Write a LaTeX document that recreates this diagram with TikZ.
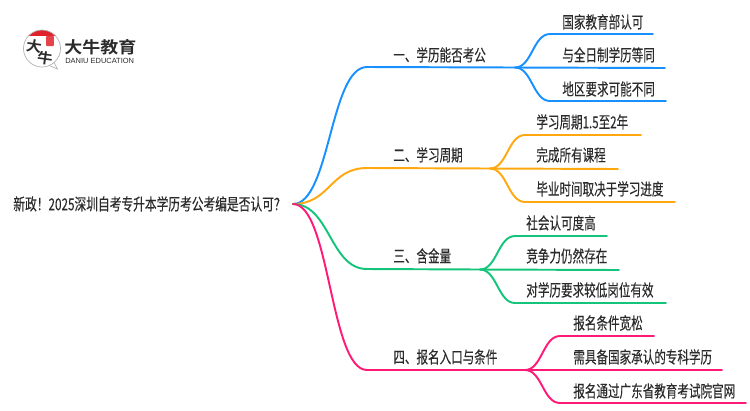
\documentclass[tikz,border=0pt]{standalone}
\usepackage{fontspec}
\usepackage{xcolor}
\usetikzlibrary{positioning}
\newfontfamily\cjk[FakeStretch=0.7,FakeBold=0.25]{Noto Sans CJK SC}
\newfontfamily\cjkroot[FakeStretch=0.71,FakeBold=0.25]{Noto Sans CJK SC}
\newfontfamily\cjklogo[FakeStretch=1.1]{Noto Sans CJK SC Bold}
\newfontfamily\latinlogo{Liberation Sans}
\definecolor{lineblue}{HTML}{1890FF}
\definecolor{lineorange}{HTML}{FFA80F}
\definecolor{linegreen}{HTML}{14C47A}
\definecolor{linepink}{HTML}{FF1A78}
\definecolor{inkdark}{HTML}{2B2B2B}
\definecolor{logored}{HTML}{E0222A}
\tikzset{
  txt/.style={anchor=west,inner sep=0pt,font=\cjk\fontsize{9.4pt}{10pt}\selectfont,text=inkdark,text height=8.2pt,text depth=1.1pt},
  ln/.style={line width=1.1pt,line cap=round},
  bigcurve/.style={to path={.. controls +(37,0) and +(-37,0) .. (\tikztotarget)}},
  smallcurve/.style={to path={.. controls +(17,0) and +(-17,0) .. (\tikztotarget)}}
}
\begin{document}
\begin{tikzpicture}[x=0.02cm,y=-0.02cm]
  \useasboundingbox (0,0) rectangle (750,410);
  % logo
  \begin{scope}
    \clip (42,48.5) circle (18.5);
    \fill [logored] (20,28) rectangle (64,36);
  \end{scope}
  \draw [black!30,line width=.4pt] (54,62.5) -- (57.5,69) -- (49,65.5);
  \draw [black!30,line width=.4pt] (42,48.5) circle (18.5);
  \node (logoda) [inner sep=0pt,rotate=-8,text=inkdark,font=\cjklogo\fontsize{8pt}{9pt}\selectfont] at (34,46) {大};
  \node (logoniu) [inner sep=0pt,rotate=-8,text=inkdark,font=\cjklogo\fontsize{8pt}{9pt}\selectfont] at (45,58) {牛};
  \node (logoseal) [fill=logored!85!white,rounded corners=.5pt,minimum width=4.5pt,minimum height=5.7pt,inner sep=0pt] at (50,41) {};
  \node (logoname) [inner sep=0pt,anchor=west,text=inkdark,font=\cjklogo\fontsize{9.3pt}{10pt}\selectfont] at (64,47.5) {大牛教育};
  \node (logoen) [inner sep=0pt,anchor=west,text=inkdark,font=\latinlogo\fontsize{4.25pt}{5pt}\selectfont] at (65,60.5) {DANIU EDUCATION};

  \node (root) [txt,font=\cjkroot\fontsize{9.4pt}{10pt}\selectfont] at (13,204) {新政！2025深圳自考专升本学历考公考编是否认可？};
  \coordinate (hub) at (293,204);

  % first branch
  \node (xueli) [txt] at (393,55) {一、学历能否考公};
  \node (xueliA) [txt] at (562,22) {国家教育部认可};
  \node (xueliB) [txt] at (562,55) {与全日制学历等同};
  \node (xueliC) [txt] at (562,89) {地区要求可能不同};
  \coordinate (xueliS) at (367,67);
  \coordinate (xueliJ) at (515,67.5);
  \coordinate (xueliAs) at (550,34);
  \coordinate (xueliAe) at (653,34);
  \coordinate (xueliBe) at (665,68);
  \coordinate (xueliCs) at (550,101);
  \coordinate (xueliCe) at (666,101);
  \draw [ln,lineblue] (hub) to[bigcurve] (xueliS) -- (xueliJ);
  \draw [ln,lineblue] (xueliJ) to[smallcurve] (xueliAs) -- (xueliAe);
  \draw [ln,lineblue] (xueliJ) -- (xueliBe);
  \draw [ln,lineblue] (xueliJ) to[smallcurve] (xueliCs) -- (xueliCe);

  % second branch
  \node (zhouqi) [txt] at (393,155) {二、学习周期};
  \node (zhouqiA) [txt] at (536,122) {学习周期1.5至2年};
  \node (zhouqiB) [txt] at (536,155) {完成所有课程};
  \node (zhouqiC) [txt] at (536,189) {毕业时间取决于学习进度};
  \coordinate (zhouqiS) at (367,168);
  \coordinate (zhouqiJ) at (490,168.5);
  \coordinate (zhouqiAs) at (525,135);
  \coordinate (zhouqiAe) at (641,135);
  \coordinate (zhouqiBe) at (618,169);
  \coordinate (zhouqiCs) at (525,202);
  \coordinate (zhouqiCe) at (675,202);
  \draw [ln,lineorange] (hub) to[bigcurve] (zhouqiS) -- (zhouqiJ);
  \draw [ln,lineorange] (zhouqiJ) to[smallcurve] (zhouqiAs) -- (zhouqiAe);
  \draw [ln,lineorange] (zhouqiJ) -- (zhouqiBe);
  \draw [ln,lineorange] (zhouqiJ) to[smallcurve] (zhouqiCs) -- (zhouqiCe);

  % third branch
  \node (hanjin) [txt] at (393,256) {三、含金量};
  \node (hanjinA) [txt] at (526,223) {社会认可度高};
  \node (hanjinB) [txt] at (526,256) {竞争力仍然存在};
  \node (hanjinC) [txt] at (526,290) {对学历要求较低岗位有效};
  \coordinate (hanjinS) at (367,269);
  \coordinate (hanjinJ) at (480,269.5);
  \coordinate (hanjinAs) at (515,236);
  \coordinate (hanjinAe) at (607,236);
  \coordinate (hanjinBe) at (619,270);
  \coordinate (hanjinCs) at (515,303);
  \coordinate (hanjinCe) at (666,303);
  \draw [ln,linegreen] (hub) to[bigcurve] (hanjinS) -- (hanjinJ);
  \draw [ln,linegreen] (hanjinJ) to[smallcurve] (hanjinAs) -- (hanjinAe);
  \draw [ln,linegreen] (hanjinJ) -- (hanjinBe);
  \draw [ln,linegreen] (hanjinJ) to[smallcurve] (hanjinCs) -- (hanjinCe);

  % fourth branch
  \node (baoming) [txt] at (393,357) {四、报名入口与条件};
  \node (baomingA) [txt] at (573,323) {报名条件宽松};
  \node (baomingB) [txt] at (573,357) {需具备国家承认的专科学历};
  \node (baomingC) [txt] at (573,391) {报名通过广东省教育考试院官网};
  \coordinate (baomingS) at (367,370);
  \coordinate (baomingJ) at (525,370);
  \coordinate (baomingAs) at (560,336);
  \coordinate (baomingAe) at (654,336);
  \coordinate (baomingBe) at (722,370);
  \coordinate (baomingCs) at (560,403);
  \coordinate (baomingCe) at (746,403);
  \draw [ln,linepink] (hub) to[bigcurve] (baomingS) -- (baomingJ);
  \draw [ln,linepink] (baomingJ) to[smallcurve] (baomingAs) -- (baomingAe);
  \draw [ln,linepink] (baomingJ) -- (baomingBe);
  \draw [ln,linepink] (baomingJ) to[smallcurve] (baomingCs) -- (baomingCe);
\end{tikzpicture}
\end{document}
